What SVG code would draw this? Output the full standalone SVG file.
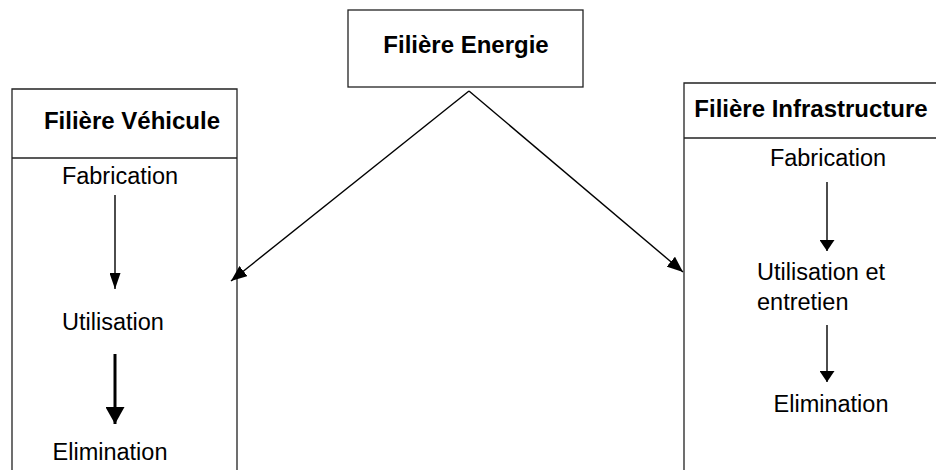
<svg xmlns="http://www.w3.org/2000/svg" width="936" height="470" viewBox="0 0 936 470">
<defs>
<style>
.box{fill:#fff;stroke:#222;stroke-width:1.3}
.ln{stroke:#000;stroke-width:1.4;fill:none}
.t{font-family:"Liberation Sans",Arial,sans-serif;font-size:23.5px;fill:#000}
.b{font-weight:bold;font-size:24px}
</style>
<marker id="m1" viewBox="0 0 16 11" refX="16" refY="5.5" markerWidth="16" markerHeight="11" markerUnits="userSpaceOnUse" orient="auto"><path d="M0,0 L16,5.5 L0,11 z" fill="#000"/></marker>
<marker id="m2" viewBox="0 0 17 19" refX="17" refY="9.5" markerWidth="17" markerHeight="19" markerUnits="userSpaceOnUse" orient="auto"><path d="M0,0 L17,9.5 L0,19 z" fill="#000"/></marker>
<marker id="m3" viewBox="0 0 11 15" refX="11" refY="7.5" markerWidth="11" markerHeight="15" markerUnits="userSpaceOnUse" orient="auto"><path d="M0,0 L11,7.5 L0,15 z" fill="#000"/></marker>
<marker id="md" viewBox="0 0 16 13" refX="16" refY="6.5" markerWidth="16" markerHeight="13" markerUnits="userSpaceOnUse" orient="auto"><path d="M0,0 L16,6.5 L0,13 z" fill="#000"/></marker>
</defs>
<rect width="936" height="470" fill="#fff"/>
<g id="energie">
<rect class="box" x="348" y="10" width="235" height="77"/>
<text class="t b" x="466" y="53" text-anchor="middle">Filière Energie</text>
</g>
<g id="vehicule">
<path class="box" d="M12,475 V89 H237 V475"/>
<line class="box" x1="12" y1="158" x2="237" y2="158"/>
<text class="t b" x="132" y="129" text-anchor="middle">Filière Véhicule</text>
<text class="t" x="120" y="184" text-anchor="middle">Fabrication</text>
<text class="t" x="113" y="330" text-anchor="middle">Utilisation</text>
<text class="t" x="110" y="460" text-anchor="middle">Elimination</text>
</g>
<g id="infrastructure">
<path class="box" d="M684,475 V83 H940"/>
<line class="box" x1="684" y1="138" x2="940" y2="138"/>
<text class="t b" x="811" y="117" text-anchor="middle">Filière Infrastructure</text>
<text class="t" x="828" y="166" text-anchor="middle">Fabrication</text>
<text class="t" x="757" y="280">Utilisation et</text>
<text class="t" x="757" y="310">entretien</text>
<text class="t" x="831" y="412" text-anchor="middle">Elimination</text>
</g>
<g id="connectors">
<line class="ln" x1="115" y1="195" x2="115" y2="289" marker-end="url(#m1)"/>
<line class="ln" x1="115" y1="354" x2="115" y2="424" style="stroke-width:3" marker-end="url(#m2)"/>
<line class="ln" x1="827" y1="182" x2="827" y2="251" marker-end="url(#m3)"/>
<line class="ln" x1="827" y1="325" x2="827" y2="382" marker-end="url(#m3)"/>
<line class="ln" x1="469" y1="91" x2="231" y2="281" marker-end="url(#md)"/>
<line class="ln" x1="469" y1="91" x2="683" y2="272" marker-end="url(#md)"/>
</g>
</svg>
